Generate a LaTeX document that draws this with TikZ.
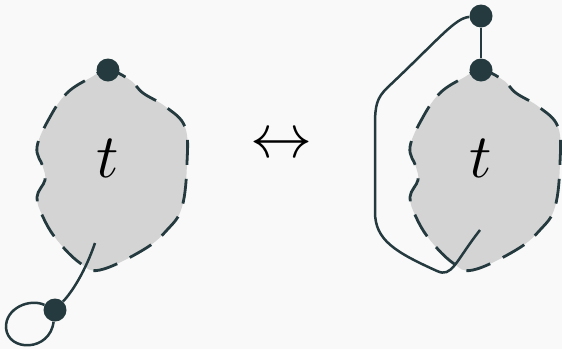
\documentclass[tikz,border=0pt]{standalone}
\begin{document}
\begin{tikzpicture}[x=1pt,y=-1pt]
\definecolor{bgc}{HTML}{F9F9F9}
\definecolor{dk}{HTML}{243A3E}
\definecolor{blobc}{HTML}{D4D4D4}
\tikzset{
  dot/.style={circle,fill=dk,inner sep=0pt,minimum size=23pt},
  blobout/.style={draw=dk,line width=2.8pt,dash pattern=on 25pt off 14pt,dash phase=6pt,fill=blobc},
  wire/.style={draw=dk,line width=2.5pt},
  bigtxt/.style={scale=6.2}
}
\fill[bgc] (0,0) rectangle (562,349);
\useasboundingbox (0,0) rectangle (562,349);
\def\blob{plot[smooth cycle,tension=0.65] coordinates {
(-18,-82) (0,-90) (22,-80) (35,-67) (58,-53) (77,-33) (79,3) (74,47) (59,70) (35,90)
(-8,110) (-28,103) (-51,80) (-65,57) (-71,37) (-63,20) (-65,7) (-71,-13) (-58,-43) (-41,-67)}}
% left
\begin{scope}[shift={(108,160)}]
\path[blobout] \blob;
\end{scope}
\node[bigtxt] (tL) at (108,158) {$t$};
\node[dot] (topL) at (108,70) {};
\coordinate (tailL) at (95,243);
\node[dot] (dotB) at (55,310) {};
\draw[wire] (tailL) .. controls (85,272) and (72,292) .. (dotB);
\draw[wire] (dotB) .. controls (30,298) and (5,308) .. (6,328) .. controls (8,352) and (50,352) .. (dotB);
% arrow
\node[bigtxt] (arr) at (281,146) {$\leftrightarrow$};
% right
\begin{scope}[shift={(481,160)}]
\path[blobout] \blob;
\end{scope}
\node[bigtxt] (tR) at (481,158) {$t$};
\node[dot] (topR) at (481,70) {};
\node[dot] (upR) at (481,16) {};
\draw[wire] (upR) -- (topR);
\coordinate (tailR) at (480,230);
\draw[wire] (upR) .. controls (455,18) and (440,38) .. (387,88) .. controls (377,98) and (375,105) .. (375,125) -- (375,212) .. controls (375,240) and (395,252) .. (437,271) .. controls (452,278) and (455,262) .. (tailR);
\end{tikzpicture}
\end{document}
